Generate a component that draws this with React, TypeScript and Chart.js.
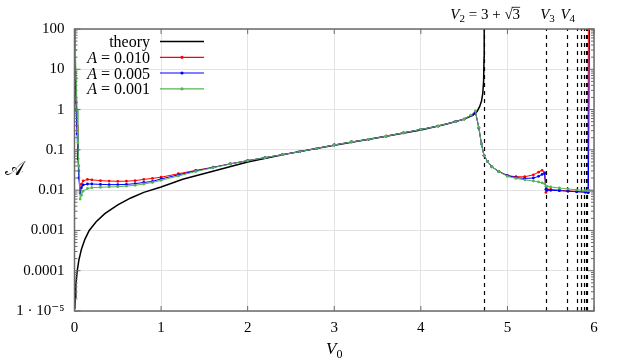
import React, { useEffect, useRef } from 'react';
import { Chart, registerables } from 'chart.js';
Chart.register(...registerables);

// ---------- data ----------
const xTickValues = [0, 1, 2, 3, 4, 5, 6];
const yTickValues = [1e-5, 1e-4, 1e-3, 1e-2, 1e-1, 1, 10, 100];
const yTickLabels = ['1 · 10⁻⁵', '0.0001', '0.001', '0.01', '0.1', '1', '10', '100'];

const theoryV = [0.004, 0.008, 0.015, 0.032, 0.05, 0.08, 0.12, 0.17, 0.25, 0.35, 0.5, 0.65, 0.8, 1.0, 1.25, 1.5, 1.75, 2.0, 2.5, 3.0, 3.5, 4.0, 4.3, 4.5, 4.6, 4.65, 4.68, 4.7, 4.715, 4.725, 4.73, 4.732];
const theoryA = [1.1e-5, 2.2e-5, 4.5e-5, 1e-4, 1.8e-4, 3.4e-4, 6e-4, 1e-3, 1.65e-3, 2.6e-3, 4.3e-3, 6.4e-3, 8.8e-3, 0.012, 0.0186, 0.026, 0.036, 0.05, 0.083, 0.13, 0.2, 0.31, 0.44, 0.58, 0.72, 0.9, 1.2, 1.6, 2.5, 5, 20, 300];

const simV = [0.002, 0.01, 0.02, 0.03, 0.04, 0.05, 0.065, 0.08, 0.1, 0.15, 0.2, 0.3, 0.4, 0.5, 0.6, 0.7, 0.8, 0.9, 1.0, 1.2, 1.4, 1.6, 1.8, 2.0, 2.2, 2.4, 2.6, 2.8, 3.0, 3.2, 3.4, 3.6, 3.8, 4.0, 4.2, 4.4, 4.5, 4.58, 4.63, 4.67, 4.70, 4.73, 4.77, 4.82, 4.9, 5.0, 5.1, 5.2, 5.3, 5.36, 5.4, 5.43, 5.445, 5.46, 5.5, 5.6, 5.7, 5.8, 5.9, 5.93, 5.935, 5.95, 6.0];
const simA010 = [300, 8, 1.5, 0.4, 0.1, 0.03, 0.0095, 0.014, 0.017, 0.0185, 0.018, 0.0172, 0.0168, 0.0166, 0.0167, 0.0172, 0.0185, 0.0195, 0.021, 0.0255, 0.031, 0.037, 0.045, 0.054, 0.064, 0.076, 0.09, 0.109, 0.132, 0.157, 0.183, 0.218, 0.265, 0.32, 0.39, 0.5, 0.58, 0.72, 0.88, 0.35, 0.14, 0.072, 0.052, 0.038, 0.029, 0.023, 0.0215, 0.0215, 0.024, 0.028, 0.031, 0.027, 0.0088, 0.0105, 0.0104, 0.01, 0.0096, 0.0093, 0.0089, 0.0088, 300, null, null];
const simA005 = [300, 5, 1.0, 0.25, 0.06, 0.02, 0.0085, 0.0115, 0.0135, 0.0142, 0.0142, 0.0139, 0.0137, 0.0137, 0.0139, 0.0145, 0.0155, 0.0165, 0.019, 0.024, 0.03, 0.0365, 0.045, 0.054, 0.064, 0.076, 0.09, 0.109, 0.132, 0.157, 0.183, 0.218, 0.265, 0.32, 0.39, 0.5, 0.58, 0.72, 0.88, 0.35, 0.14, 0.072, 0.052, 0.038, 0.029, 0.023, 0.0205, 0.0195, 0.02, 0.022, 0.0245, 0.026, 0.0105, 0.0099, 0.0099, 0.0097, 0.0094, 0.0091, 0.0089, 0.0088, 0.0088, 300, null];
const simA001 = [300, 30, 6, 1.0, 0.15, 0.04, 0.006, 0.0075, 0.0095, 0.011, 0.0115, 0.0118, 0.012, 0.0122, 0.0126, 0.0132, 0.0142, 0.0155, 0.0175, 0.0225, 0.029, 0.036, 0.0445, 0.054, 0.064, 0.076, 0.09, 0.109, 0.132, 0.157, 0.183, 0.218, 0.265, 0.32, 0.39, 0.5, 0.58, 0.73, 0.93, 0.36, 0.14, 0.072, 0.052, 0.038, 0.029, 0.022, 0.0195, 0.018, 0.0168, 0.016, 0.0152, 0.0145, 0.0125, 0.0124, 0.012, 0.0113, 0.0107, 0.0102, 0.0098, 0.0097, 0.0097, 0.0096, 0.0095];

const thresholdV = [4.732, 5.44, 5.685, 5.8, 5.852, 5.884, 5.905, 5.922];

const seriesNames = ['theory', '0.010', '0.005', '0.001'];
const seriesColors = ['#000000', '#ff0000', '#0000ff', '#55b555'];

// ---------- drawing helpers ----------
const SERIF = '"Liberation Serif", "DejaVu Serif", serif';
type Part = { t: string; italic?: boolean; sub?: boolean; over?: boolean };

function drawRich(ctx: CanvasRenderingContext2D, parts: Part[], x: number, y: number, size: number, align: 'left' | 'center' | 'right') {
  const fontFor = (p: Part) => `${p.italic ? 'italic ' : ''}${p.sub ? Math.round(size * 0.7) : size}px ${SERIF}`;
  const widths: number[] = [];
  let total = 0;
  for (const p of parts) {
    ctx.font = fontFor(p);
    const w = ctx.measureText(p.t).width;
    widths.push(w);
    total += w;
  }
  let cx = align === 'left' ? x : align === 'center' ? x - total / 2 : x - total;
  ctx.textAlign = 'left';
  ctx.textBaseline = 'alphabetic';
  parts.forEach((p, i) => {
    ctx.font = fontFor(p);
    const yy = p.sub ? y + size * 0.22 : y;
    ctx.fillText(p.t, cx, yy);
    if (p.over) {
      ctx.save();
      ctx.lineWidth = 0.8;
      ctx.beginPath();
      ctx.moveTo(cx - 1, y - size * 0.78);
      ctx.lineTo(cx + widths[i], y - size * 0.78);
      ctx.stroke();
      ctx.restore();
    }
    cx += widths[i];
  });
}

const decorPlugin = {
  id: 'decor',
  beforeDatasetsDraw(chart: any) {
    const { ctx, chartArea: a, scales } = chart;
    ctx.save();
    ctx.strokeStyle = '#000';
    ctx.lineWidth = 1.2;
    ctx.setLineDash([4, 4]);
    for (const v of thresholdV) {
      const x = Math.round(scales.x.getPixelForValue(v)) + 0.5;
      ctx.beginPath();
      ctx.moveTo(x, a.bottom);
      ctx.lineTo(x, a.top);
      ctx.stroke();
    }
    ctx.restore();
  },
  afterDatasetsDraw(chart: any) {
    const { ctx, chartArea: a, scales } = chart;
    ctx.save();
    // frame
    ctx.strokeStyle = '#6b6b6b';
    ctx.lineWidth = 1.5;
    ctx.strokeRect(a.left, a.top, a.right - a.left, a.bottom - a.top);
    // x ticks
    ctx.lineWidth = 1;
    for (const v of xTickValues) {
      const x = scales.x.getPixelForValue(v);
      ctx.beginPath();
      ctx.moveTo(x, a.bottom); ctx.lineTo(x, a.bottom - 5);
      ctx.moveTo(x, a.top); ctx.lineTo(x, a.top + 5);
      ctx.stroke();
    }
    // y ticks (major + minor)
    for (let i = 0; i < yTickValues.length; i++) {
      const d = yTickValues[i];
      const y = scales.y.getPixelForValue(d);
      ctx.beginPath();
      ctx.moveTo(a.left, y); ctx.lineTo(a.left + 6, y);
      ctx.moveTo(a.right, y); ctx.lineTo(a.right - 6, y);
      ctx.stroke();
      if (i < yTickValues.length - 1) {
        for (let m = 2; m <= 9; m++) {
          const ym = scales.y.getPixelForValue(d * m);
          ctx.beginPath();
          ctx.moveTo(a.left, ym); ctx.lineTo(a.left + 3, ym);
          ctx.moveTo(a.right, ym); ctx.lineTo(a.right - 3, ym);
          ctx.stroke();
        }
      }
    }
    // legend
    ctx.fillStyle = '#000';
    const rowY = [41.5, 57.3, 73, 88.8];
    for (let i = 0; i < seriesNames.length; i++) {
      const base = rowY[i] + 5.5;
      if (i === 0) {
        drawRich(ctx, [{ t: seriesNames[0] }], 150, base, 16, 'right');
      } else {
        drawRich(ctx, [{ t: 'A', italic: true }, { t: ' = ' + seriesNames[i] }], 150, base, 16, 'right');
      }
      ctx.strokeStyle = seriesColors[i];
      ctx.lineWidth = i === 0 ? 1.5 : 1.2;
      ctx.beginPath();
      ctx.moveTo(160, rowY[i]);
      ctx.lineTo(204, rowY[i]);
      ctx.stroke();
      if (i > 0) {
        ctx.fillStyle = seriesColors[i];
        ctx.beginPath();
        ctx.arc(182, rowY[i], 1.6, 0, Math.PI * 2);
        ctx.fill();
        ctx.fillStyle = '#000';
      }
    }
    // top annotations
    ctx.strokeStyle = '#000';
    const x2 = scales.x.getPixelForValue(thresholdV[0]);
    drawRich(ctx, [
      { t: 'V', italic: true }, { t: '2', sub: true }, { t: ' = 3 + ' }, { t: '√' }, { t: '3', over: true },
    ], x2 + 1, 19, 15, 'center');
    drawRich(ctx, [{ t: 'V', italic: true }, { t: '3', sub: true }], scales.x.getPixelForValue(thresholdV[1]) + 2, 19, 15, 'center');
    drawRich(ctx, [{ t: 'V', italic: true }, { t: '4', sub: true }], scales.x.getPixelForValue(thresholdV[2]) + 1, 19, 15, 'center');
    // axis titles
    drawRich(ctx, [{ t: 'V', italic: true }, { t: '0', sub: true }], (a.left + a.right) / 2, 354, 17, 'center');
    ctx.font = `20px "DejaVu Sans", "DejaVu Serif", ${SERIF}`;
    ctx.textAlign = 'center';
    ctx.textBaseline = 'middle';
    ctx.fillText('𝒜', 14, 170);
    ctx.restore();
  },
};

export default function App() {
  const ref = useRef<HTMLCanvasElement>(null);
  useEffect(() => {
    if (!ref.current) return;
    const mk = (vals: (number | null)[]) => simV.map((v, i) => ({ x: v, y: vals[i] }));
    const chart = new Chart(ref.current, {
      type: 'line',
      data: {
        datasets: [
          {
            label: seriesNames[0],
            data: theoryV.map((v, i) => ({ x: v, y: theoryA[i] })),
            borderColor: seriesColors[0],
            borderWidth: 1.5,
            pointRadius: 0,
            order: 4,
          },
          {
            label: seriesNames[1],
            data: mk(simA010),
            borderColor: seriesColors[1],
            backgroundColor: seriesColors[1],
            borderWidth: 1,
            pointRadius: 1.4,
            pointBorderWidth: 0,
            order: 3,
          },
          {
            label: seriesNames[2],
            data: mk(simA005),
            borderColor: seriesColors[2],
            backgroundColor: seriesColors[2],
            borderWidth: 1,
            pointRadius: 1.4,
            pointBorderWidth: 0,
            order: 2,
          },
          {
            label: seriesNames[3],
            data: mk(simA001),
            borderColor: seriesColors[3],
            backgroundColor: seriesColors[3],
            borderWidth: 1,
            pointRadius: 1.4,
            pointBorderWidth: 0,
            order: 1,
          },
        ],
      },
      options: {
        responsive: false,
        animation: false,
        devicePixelRatio: 1,
        layout: { padding: { left: 0, right: 29, top: 29, bottom: 0 } },
        plugins: { legend: { display: false }, tooltip: { enabled: false } },
        scales: {
          x: {
            type: 'linear',
            min: 0,
            max: 6,
            afterBuildTicks: (s: any) => { s.ticks = xTickValues.map((v) => ({ value: v })); },
            afterFit: (s: any) => { s.height = 52; },
            grid: { color: '#e3e3e3', drawTicks: false },
            border: { display: false },
            ticks: { color: '#000', padding: 8, font: { family: SERIF, size: 15 }, callback: (v: any) => String(v) },
          },
          y: {
            type: 'logarithmic',
            min: 1e-5,
            max: 100,
            afterBuildTicks: (s: any) => { s.ticks = yTickValues.map((v) => ({ value: v })); },
            afterFit: (s: any) => { s.width = 74.5; },
            grid: { color: '#e3e3e3', drawTicks: false },
            border: { display: false },
            ticks: {
              color: '#000',
              padding: 10,
              font: { family: SERIF, size: 15 },
              callback: (v: any) => {
                const i = yTickValues.findIndex((t) => Math.abs(Math.log10(t) - Math.log10(v)) < 1e-6);
                return i >= 0 ? yTickLabels[i] : '';
              },
            },
          },
        },
      },
      plugins: [decorPlugin],
    } as any);
    return () => chart.destroy();
  }, []);
  return (
    <div style={{ position: 'fixed', left: 0, top: 0, width: 623, height: 363, background: '#fff' }}>
      <canvas ref={ref} width={623} height={363} style={{ display: 'block' }} />
    </div>
  );
}
